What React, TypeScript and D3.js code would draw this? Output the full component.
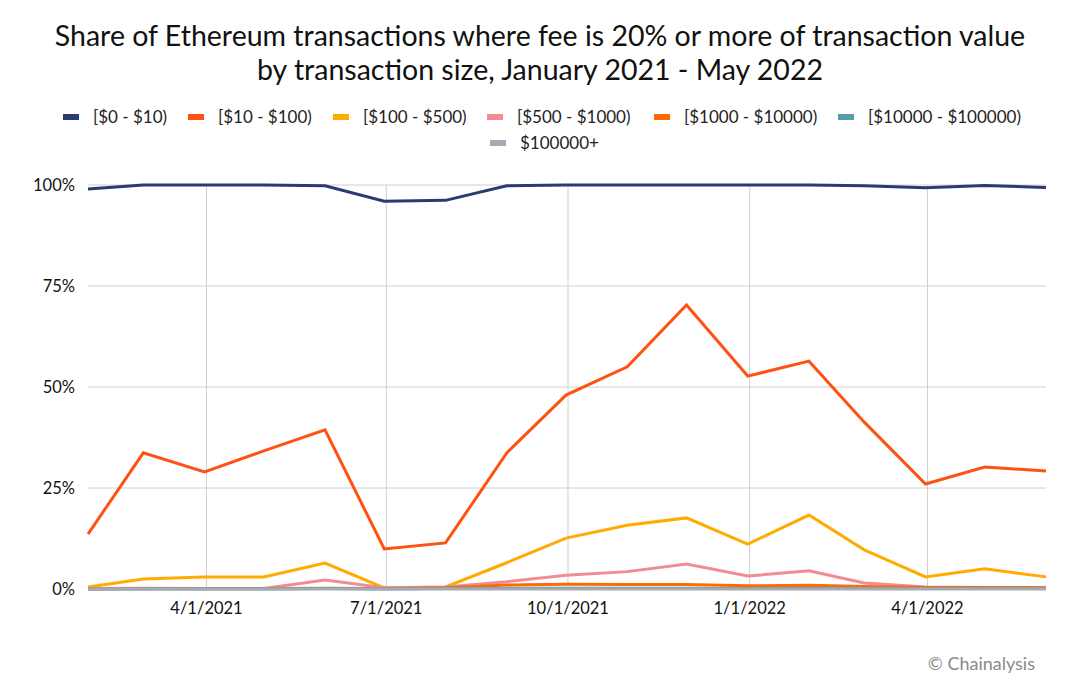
import * as d3 from "d3";

const dates = [
  "2021-01-31", "2021-02-28", "2021-03-31", "2021-04-30", "2021-05-31", "2021-06-30",
  "2021-07-31", "2021-08-31", "2021-09-30", "2021-10-31", "2021-11-30", "2021-12-31",
  "2022-01-31", "2022-02-28", "2022-03-31", "2022-04-30", "2022-05-31",
];

const seriesNames = [
  "[$0 - $10)",
  "[$10 - $100)",
  "[$100 - $500)",
  "[$500 - $1000)",
  "[$1000 - $10000)",
  "[$10000 - $100000)",
  "$100000+",
];

const seriesColors = ["#2b3a73", "#ff5212", "#ffab00", "#f28b94", "#ff6b00", "#5b9caa", "#a5abb5"];

const share0to10 = [99.0, 100, 100, 100, 99.8, 96.0, 96.2, 99.8, 100, 100, 100, 100, 100, 99.8, 99.3, 99.9, 99.4];
const share10to100 = [13.6, 33.7, 29.0, 34.2, 39.4, 9.9, 11.4, 33.7, 48.0, 55.0, 70.3, 52.7, 56.4, 41.3, 26.0, 30.2, 29.2];
const share100to500 = [0.5, 2.5, 3.0, 3.0, 6.4, 0.25, 0.5, 6.5, 12.6, 15.8, 17.6, 11.1, 18.3, 9.7, 3.0, 5.0, 3.0];
const share500to1000 = [0.1, 0.2, 0.1, 0.1, 2.2, 0.3, 0.5, 1.8, 3.4, 4.3, 6.2, 3.2, 4.5, 1.5, 0.5, 0.4, 0.4];
const share1000to10000 = [0.0, 0.1, 0.1, 0.1, 0.2, 0.1, 0.3, 1.0, 1.2, 1.1, 1.1, 0.8, 0.9, 0.6, 0.4, 0.4, 0.3];
const share10000to100000 = [0.0, 0.0, 0.0, 0.0, 0.1, 0.0, 0.1, 0.2, 0.2, 0.2, 0.2, 0.1, 0.2, 0.1, 0.1, 0.1, 0.1];
const share100000plus = [0, 0, 0, 0, 0, 0, 0, 0, 0, 0, 0, 0, 0, 0, 0, 0, 0];

const seriesValues = [
  share0to10,
  share10to100,
  share100to500,
  share500to1000,
  share1000to10000,
  share10000to100000,
  share100000plus,
];

const yTicks = [0, 25, 50, 75, 100];

const width = 1080;
const height = 675;
const margin = { top: 185, right: 34, bottom: 86, left: 88 };
const font = "Lato, 'Noto Sans', sans-serif";

export default function App() {
  const parse = d3.utcParse("%Y-%m-%d");
  const points = dates.map((d) => parse(d)!);

  const x = d3
    .scaleUtc()
    .domain(d3.extent(points) as [Date, Date])
    .range([margin.left, width - margin.right]);

  const y = d3
    .scaleLinear()
    .domain([0, 100])
    .range([height - margin.bottom, margin.top]);

  const xTicks = x.ticks(d3.utcMonth.every(3)!);
  const fmt = d3.utcFormat("%-m/%-d/%Y");

  const line = d3
    .line<number>()
    .x((_, i) => x(points[i]))
    .y((v) => y(v));

  // legend layout: first six on row one, the last one centred below
  const row1 = [63, 188, 333, 487, 654, 838];

  return (
    <div style={{ position: "absolute", left: 0, top: 0 }}>
      <svg width={width} height={height} style={{ display: "block", background: "#fff" }}>
        <text x={540} y={46} textAnchor="middle" fontFamily={font} fontSize={28.5} fill="#111">
          Share of Ethereum transactions where fee is 20% or more of transaction value
        </text>
        <text x={540} y={80} textAnchor="middle" fontFamily={font} fontSize={28.5} fill="#111">
          by transaction size, January 2021 - May 2022
        </text>

        {seriesNames.map((name, i) => {
          const sx = i < 6 ? row1[i] : 490;
          const sy = i < 6 ? 117 : 143;
          return (
            <g key={name}>
              <rect x={sx} y={sy - 3} width={16} height={6} fill={seriesColors[i]} />
              <text
                x={sx + 30}
                y={sy + 6}
                fontFamily={font}
                fontSize={17}
                fill="#222"
              >
                {name}
              </text>
            </g>
          );
        })}

        {/* grid */}
        {yTicks.map((t) => (
          <g key={t}>
            <line x1={margin.left} x2={width - margin.right} y1={y(t)} y2={y(t)} stroke="#d0d0d0" />
            <text
              x={75}
              y={y(t) + 6}
              textAnchor="end"
              fontFamily={font}
              fontSize={16.5}
              fill="#111"
            >
              {t}%
            </text>
          </g>
        ))}
        {xTicks.map((t) => (
          <g key={t.getTime()}>
            <line x1={x(t)} x2={x(t)} y1={y(0)} y2={y(100)} stroke="#d0d0d0" />
            <text
              x={x(t)}
              y={614}
              textAnchor="middle"
              fontFamily={font}
              fontSize={16.5}
              fill="#111"
            >
              {fmt(t)}
            </text>
          </g>
        ))}

        {/* lines */}
        {seriesValues.map((vals, i) => (
          <path
            key={seriesNames[i]}
            d={line(vals) ?? ""}
            fill="none"
            stroke={seriesColors[i]}
            strokeWidth={3}
            strokeLinejoin="miter"
          />
        ))}

        <text x={1035} y={670} textAnchor="end" fontFamily={font} fontSize={18} fill="#8a8a8a">
          © Chainalysis
        </text>
      </svg>
    </div>
  );
}
